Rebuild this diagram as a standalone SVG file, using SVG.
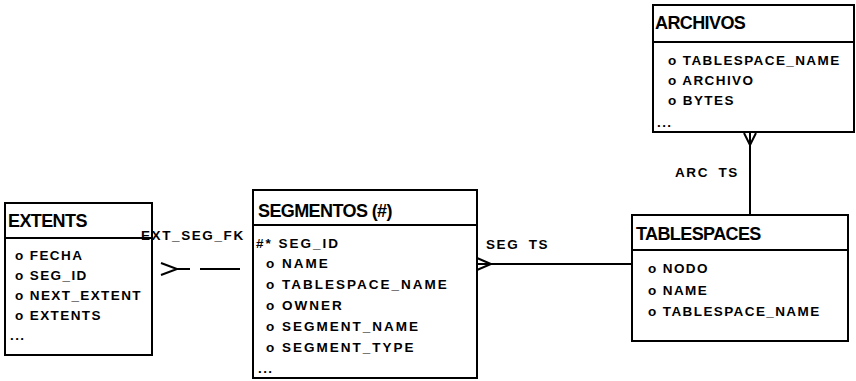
<svg xmlns="http://www.w3.org/2000/svg" width="856" height="381" viewBox="0 0 856 381">
<style>
.box{fill:#fff;stroke:#000;stroke-width:2}
.sep{stroke:#000;stroke-width:2}
.title{font-family:"Liberation Sans",Arial,sans-serif;font-size:18px;font-weight:bold;letter-spacing:-0.6px;fill:#000}
.row{font-family:"Liberation Sans",Arial,sans-serif;font-size:13.5px;font-weight:bold;letter-spacing:1.4px;fill:#000}
.wide{letter-spacing:2px}
.lbl{font-family:"Liberation Sans",Arial,sans-serif;font-size:13.5px;font-weight:bold;letter-spacing:1.6px;fill:#000}
.ln{stroke:#000;stroke-width:2;fill:none}
</style>
<g id="extents">
  <rect class="box" x="5" y="203" width="147" height="152"/>
  <line class="sep" x1="5" y1="238" x2="152" y2="238"/>
  <text class="title" x="8" y="227">EXTENTS</text>
  <text class="row" x="15" y="260">o FECHA</text>
  <text class="row" x="15" y="280">o SEG_ID</text>
  <text class="row" x="15" y="300">o NEXT_EXTENT</text>
  <text class="row" x="15" y="320">o EXTENTS</text>
  <text class="row" x="10" y="340">...</text>
</g>
<g id="segmentos">
  <rect class="box" x="253" y="190" width="224" height="188"/>
  <line class="sep" x1="253" y1="225" x2="477" y2="225"/>
  <text class="title" x="258" y="217">SEGMENTOS (#)</text>
  <text class="row wide" x="256" y="248">#* SEG_ID</text>
  <text class="row wide" x="266" y="268">o NAME</text>
  <text class="row wide" x="266" y="289">o TABLESPACE_NAME</text>
  <text class="row wide" x="266" y="310">o OWNER</text>
  <text class="row wide" x="266" y="331">o SEGMENT_NAME</text>
  <text class="row wide" x="266" y="352">o SEGMENT_TYPE</text>
  <text class="row" x="258" y="373">...</text>
</g>
<g id="tablespaces">
  <rect class="box" x="632" y="215" width="216" height="126"/>
  <line class="sep" x1="632" y1="250" x2="848" y2="250"/>
  <text class="title" x="636" y="240">TABLESPACES</text>
  <text class="row" x="648" y="273">o NODO</text>
  <text class="row" x="648" y="295">o NAME</text>
  <text class="row" x="648" y="316">o TABLESPACE_NAME</text>
</g>
<g id="archivos">
  <rect class="box" x="653" y="5" width="201" height="127"/>
  <line class="sep" x1="653" y1="42" x2="854" y2="42"/>
  <text class="title" x="655" y="29">ARCHIVOS</text>
  <text class="row" x="668" y="65">o TABLESPACE_NAME</text>
  <text class="row" x="668" y="85">o ARCHIVO</text>
  <text class="row" x="668" y="105">o BYTES</text>
  <text class="row" x="657" y="127">...</text>
</g>
<g id="connectors">
  <g id="arc_ts">
    <line class="ln" x1="750" y1="133" x2="750" y2="215"/>
    <polyline class="ln" points="744,133 750,145 756,133"/>
    <text class="lbl" x="675" y="177" word-spacing="4">ARC TS</text>
  </g>
  <g id="seg_ts">
    <line class="ln" x1="477" y1="264" x2="632" y2="264"/>
    <polyline class="ln" points="477,258 491,264 477,270"/>
    <text class="lbl" x="486" y="249" word-spacing="4">SEG TS</text>
  </g>
  <g id="ext_seg_fk">
    <polyline class="ln" points="161,263 177,269 161,275"/>
    <line class="ln" x1="177" y1="269" x2="190" y2="269"/>
    <line class="ln" x1="200" y1="269" x2="240" y2="269"/>
    <text class="lbl" x="141" y="240">EXT_SEG_FK</text>
  </g>
</g>
</svg>
